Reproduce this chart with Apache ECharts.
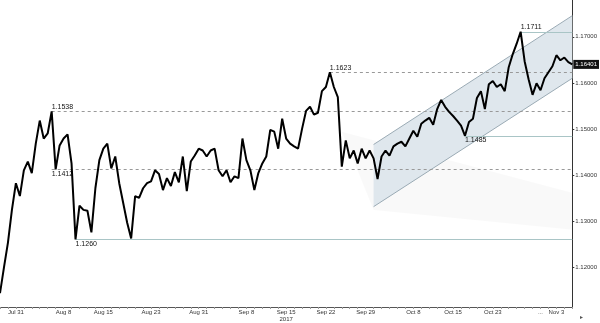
<!DOCTYPE html>
<html><head><meta charset="utf-8">
<script src="https://cdn.jsdelivr.net/npm/echarts@6/dist/echarts.min.js"></script>
<style>html,body{margin:0;padding:0;background:#fff}#c{width:600px;height:323px}</style>
</head><body><div id="c"></div>
<script>
// price closes, one per bar
const prices = [
1.1143,1.1199,1.1253,1.1324,1.1382,1.1354,1.1410,1.1429,1.1404,1.1468,
1.1518,1.1479,1.1490,1.1538,1.1412,1.1464,1.1479,1.1488,1.1425,1.1260,
1.1333,1.1324,1.1322,1.1275,1.1371,1.1432,1.1457,1.1468,1.1414,1.1440,
1.1382,1.1339,1.1296,1.1262,1.1354,1.1350,1.1371,1.1382,1.1386,1.1410,
1.1402,1.1367,1.1393,1.1376,1.1406,1.1384,1.1440,1.1365,1.1429,1.1442,
1.1457,1.1453,1.1440,1.1453,1.1457,1.1410,1.1397,1.1410,1.1384,1.1397,
1.1393,1.1479,1.1432,1.1410,1.1367,1.1404,1.1425,1.1440,1.1498,1.1494,
1.1457,1.1522,1.1479,1.1468,1.1462,1.1457,1.1500,1.1539,1.1548,1.1531,
1.1535,1.1582,1.1591,1.1623,1.1591,1.1569,1.1418,1.1475,1.1436,1.1453,
1.1425,1.1457,1.1436,1.1453,1.1436,1.1391,1.1440,1.1453,1.1442,1.1462,
1.1468,1.1472,1.1462,1.1479,1.1496,1.1483,1.1511,1.1518,1.1524,1.1509,
1.1543,1.1563,1.1548,1.1537,1.1528,1.1518,1.1507,1.1485,1.1515,1.1522,
1.1567,1.1582,1.1543,1.1597,1.1604,1.1591,1.1597,1.1582,1.1634,1.1662,
1.1685,1.1711,1.1647,1.1608,1.1574,1.1599,1.1584,1.1610,1.1623,1.1636,
1.1660,1.1649,1.1655,1.1645,1.16401
];
const tickLabels = ['Jul 31','Aug 8','Aug 15','Aug 23','Aug 31','Sep 8','Sep 15\n2017','Sep 22','Sep 29','Oct 8','Oct 15','Oct 23','...','Nov 3'];
const tickIndex  = [4,16,26,38,50,62,72,82,92,104,114,124,136,140];
// pivot levels
const levelValues = [1.1538,1.1412,1.1260,1.1623,1.1485,1.1711];
const levelStart  = [13,13,19,83,117,131];
const lastPrice = 1.16401;
// channel: [startIndex, endIndex], upper [start,end], lower [start,end]
const channelIdx = [94,144];
const channelUpper = [1.1466,1.1746];
const channelLower = [1.1331,1.1610];
// faint projection wedge: [index, value] corners
const wedge = [[86,1.1494],[144,1.1361],[144,1.1281],[94,1.1324]];

const cats = prices.map((_, i) => String(i));
const lastIdx = prices.length - 1;
const dashedLevels = {1.1538:1, 1.1412:1, 1.1623:1};
const labelBelow = {1.1412:1, 1.1260:1, 1.1485:1};

const chart = echarts.init(document.getElementById('c'), null, {renderer:'canvas'});
const font = 'Liberation Sans, Arial, sans-serif';
chart.setOption({
  animation:false,
  grid:{left:0, right:25, top:0, bottom:13},
  xAxis:{
    type:'category', data:cats, boundaryGap:false,
    axisLine:{lineStyle:{color:'#555', width:1}},
    axisTick:{show:true, interval:1, length:2, lineStyle:{color:'#999'}},
    axisLabel:{
      interval:(i)=>tickIndex.indexOf(i) >= 0,
      formatter:(v,i)=>{const k=tickIndex.indexOf(Number(v)); return k>=0?tickLabels[k]:'';},
      fontSize:6, color:'#333', margin:2, lineHeight:7, fontFamily:font
    },
    splitLine:{show:false}
  },
  yAxis:{
    type:'value', position:'right', min:1.1113, max:1.178, splitNumber:6,
    axisLine:{show:true, lineStyle:{color:'#333'}},
    axisTick:{show:true, length:2, lineStyle:{color:'#333'}},
    axisLabel:{formatter:v=>v.toFixed(5), fontSize:6, color:'#333', margin:3, fontFamily:font, showMinLabel:false, showMaxLabel:false},
    splitLine:{show:false}
  },
  series:[
    {
      type:'custom', silent:true, z:1,
      data:[[0,0]],
      renderItem:(p, api)=>({
        type:'polygon',
        shape:{points:wedge.map(c=>api.coord(c))},
        style:{fill:'rgba(0,0,0,0.025)'}
      })
    },
    {
      type:'custom', silent:true, z:2,
      data:[[0,0]],
      renderItem:(p, api)=>{
        const u0=api.coord([channelIdx[0],channelUpper[0]]), u1=api.coord([channelIdx[1],channelUpper[1]]);
        const l0=api.coord([channelIdx[0],channelLower[0]]), l1=api.coord([channelIdx[1],channelLower[1]]);
        return {type:'group', children:[
          {type:'polygon', shape:{points:[u0,u1,l1,l0]}, style:{fill:'#dfe7ed'}},
          {type:'line', shape:{x1:u0[0],y1:u0[1],x2:u1[0],y2:u1[1]}, style:{stroke:'#9aaab4', lineWidth:1}},
          {type:'line', shape:{x1:l0[0],y1:l0[1],x2:l1[0],y2:l1[1]}, style:{stroke:'#9aaab4', lineWidth:1}}
        ]};
      }
    },
    {
      type:'line', data:prices, z:5, showSymbol:false, symbol:'none',
      lineStyle:{color:'#000', width:2},
      markLine:{
        symbol:'none', silent:true, animation:false,
        data: levelValues.map((v,k)=>[
          {coord:[levelStart[k], v],
           lineStyle:{color: dashedLevels[v] ? '#999' : '#a9c5c6', type: dashedLevels[v] ? [3,3] : 'solid', width:1},
           label:{show:true, formatter:v.toFixed(4), position: labelBelow[v] ? 'insideStartBottom' : 'insideStartTop',
                  distance:[0,1], fontSize:7, color:'#111', fontFamily:font}},
          {coord:[lastIdx, v]}
        ]).concat([[
          {coord:[0, lastPrice], lineStyle:{color:'rgba(0,0,0,0)', width:0},
           label:{show:true, position:'end', formatter:lastPrice.toFixed(5), backgroundColor:'#111', color:'#fff',
                  padding:[2,2,1,2], fontSize:6, distance:1, fontFamily:font}},
          {coord:[lastIdx, lastPrice]}
        ]])
      }
    }
  ],
  graphic:[{type:'text', right:17, bottom:3, style:{text:'\u25B8', fontSize:6, fill:'#555'}}]
});
</script></body></html>
